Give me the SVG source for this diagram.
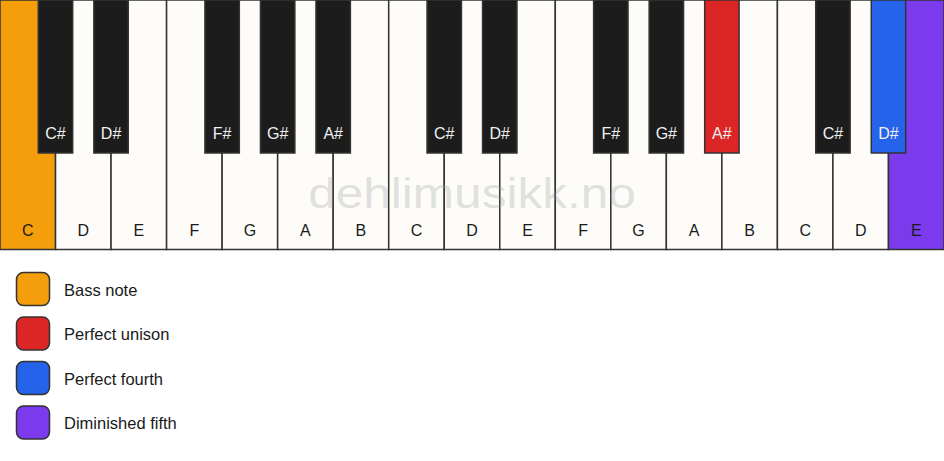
<svg xmlns="http://www.w3.org/2000/svg" width="944" height="461" viewBox="0 0 944 461">
<style>
.w{fill:#fdfcf9;stroke:#333;stroke-width:1.5}
.b{fill:#1c1c1c;stroke:#333;stroke-width:1.5}
.bass{fill:#f59e0b}
.uni{fill:#dc2626}
.fourth{fill:#2563eb}
.dim{fill:#7c3aed}
.wl{font-family:"Liberation Sans",Arial,sans-serif;font-size:16px;fill:#1a1a1a;text-anchor:middle}
.bl{font-family:"Liberation Sans",Arial,sans-serif;font-size:16px;fill:#f0f0f0;text-anchor:middle}
.lg{font-family:"Liberation Sans",Arial,sans-serif;font-size:16.5px;fill:#1a1a1a}
.sw{stroke:#333;stroke-width:1.5}
.wm{font-family:"Liberation Sans",Arial,sans-serif;font-size:42px;fill:#999;fill-opacity:0.3;text-anchor:middle}
</style>
<rect width="944" height="461" fill="#ffffff"/>
<g id="white-keys">
<g id="w-C1"><rect class="w bass" x="0" y="0" width="55.53" height="249.5"/><text class="wl" x="27.76" y="236">C</text></g>
<g id="w-D1"><rect class="w" x="55.53" y="0" width="55.53" height="249.5"/><text class="wl" x="83.29" y="236">D</text></g>
<g id="w-E1"><rect class="w" x="111.06" y="0" width="55.53" height="249.5"/><text class="wl" x="138.82" y="236">E</text></g>
<g id="w-F1"><rect class="w" x="166.59" y="0" width="55.53" height="249.5"/><text class="wl" x="194.35" y="236">F</text></g>
<g id="w-G1"><rect class="w" x="222.12" y="0" width="55.53" height="249.5"/><text class="wl" x="249.88" y="236">G</text></g>
<g id="w-A1"><rect class="w" x="277.65" y="0" width="55.53" height="249.5"/><text class="wl" x="305.41" y="236">A</text></g>
<g id="w-B1"><rect class="w" x="333.18" y="0" width="55.53" height="249.5"/><text class="wl" x="360.94" y="236">B</text></g>
<g id="w-C2"><rect class="w" x="388.71" y="0" width="55.53" height="249.5"/><text class="wl" x="416.47" y="236">C</text></g>
<g id="w-D2"><rect class="w" x="444.24" y="0" width="55.53" height="249.5"/><text class="wl" x="472" y="236">D</text></g>
<g id="w-E2"><rect class="w" x="499.76" y="0" width="55.53" height="249.5"/><text class="wl" x="527.53" y="236">E</text></g>
<g id="w-F2"><rect class="w" x="555.29" y="0" width="55.53" height="249.5"/><text class="wl" x="583.06" y="236">F</text></g>
<g id="w-G2"><rect class="w" x="610.82" y="0" width="55.53" height="249.5"/><text class="wl" x="638.59" y="236">G</text></g>
<g id="w-A2"><rect class="w" x="666.35" y="0" width="55.53" height="249.5"/><text class="wl" x="694.12" y="236">A</text></g>
<g id="w-B2"><rect class="w" x="721.88" y="0" width="55.53" height="249.5"/><text class="wl" x="749.65" y="236">B</text></g>
<g id="w-C3"><rect class="w" x="777.41" y="0" width="55.53" height="249.5"/><text class="wl" x="805.18" y="236">C</text></g>
<g id="w-D3"><rect class="w" x="832.94" y="0" width="55.53" height="249.5"/><text class="wl" x="860.71" y="236">D</text></g>
<g id="w-E3"><rect class="w dim" x="888.47" y="0" width="55.53" height="249.5"/><text class="wl" x="916.24" y="236">E</text></g>
</g>
<text id="watermark" class="wm" transform="translate(472,208) scale(1.18,1)" x="0" y="0">dehlimusikk.no</text>
<g id="black-keys">
<g id="b-Cs1"><rect class="b" x="38.3" y="0" width="34.4" height="153"/><text class="bl" x="55.53" y="139">C#</text></g>
<g id="b-Ds1"><rect class="b" x="93.86" y="0" width="34.4" height="153"/><text class="bl" x="111.06" y="139">D#</text></g>
<g id="b-Fs1"><rect class="b" x="204.92" y="0" width="34.4" height="153"/><text class="bl" x="222.12" y="139">F#</text></g>
<g id="b-Gs1"><rect class="b" x="260.45" y="0" width="34.4" height="153"/><text class="bl" x="277.65" y="139">G#</text></g>
<g id="b-As1"><rect class="b" x="315.98" y="0" width="34.4" height="153"/><text class="bl" x="333.18" y="139">A#</text></g>
<g id="b-Cs2"><rect class="b" x="427.04" y="0" width="34.4" height="153"/><text class="bl" x="444.24" y="139">C#</text></g>
<g id="b-Ds2"><rect class="b" x="482.56" y="0" width="34.4" height="153"/><text class="bl" x="499.76" y="139">D#</text></g>
<g id="b-Fs2"><rect class="b" x="593.62" y="0" width="34.4" height="153"/><text class="bl" x="610.82" y="139">F#</text></g>
<g id="b-Gs2"><rect class="b" x="649.15" y="0" width="34.4" height="153"/><text class="bl" x="666.35" y="139">G#</text></g>
<g id="b-As2"><rect class="b uni" x="704.68" y="0" width="34.4" height="153"/><text class="bl" x="721.88" y="139">A#</text></g>
<g id="b-Cs3"><rect class="b" x="815.74" y="0" width="34.4" height="153"/><text class="bl" x="832.94" y="139">C#</text></g>
<g id="b-Ds3"><rect class="b fourth" x="871.27" y="0" width="34.4" height="153"/><text class="bl" x="888.47" y="139">D#</text></g>
</g>
<g id="connectors"/>
<g id="legend">
<g id="lg-bass"><rect class="sw bass" x="16.5" y="272.5" width="33" height="33" rx="7"/><text class="lg" x="64" y="295.5">Bass note</text></g>
<g id="lg-unison"><rect class="sw uni" x="16.5" y="317" width="33" height="33" rx="7"/><text class="lg" x="64" y="340">Perfect unison</text></g>
<g id="lg-fourth"><rect class="sw fourth" x="16.5" y="361.5" width="33" height="33" rx="7"/><text class="lg" x="64" y="384.5">Perfect fourth</text></g>
<g id="lg-dim"><rect class="sw dim" x="16.5" y="406" width="33" height="33" rx="7"/><text class="lg" x="64" y="429">Diminished fifth</text></g>
</g>
</svg>
